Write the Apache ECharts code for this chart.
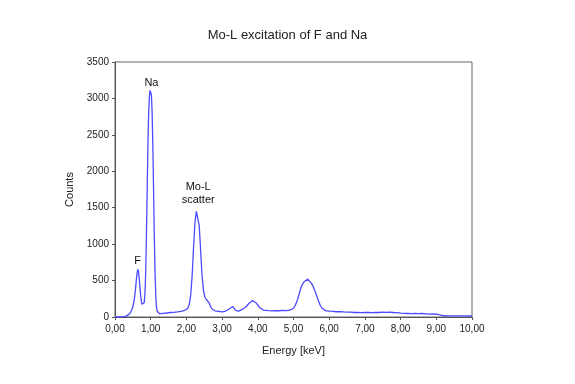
<!DOCTYPE html>
<html>
<head>
<meta charset="utf-8">
<script src="https://cdn.jsdelivr.net/npm/echarts@6/dist/echarts.min.js"></script>
<style>html,body{margin:0;padding:0;background:#fff}#c{width:575px;height:384px}</style>
</head>
<body>
<div id="c"></div>
<script>
var energy = [0.00,0.10,0.20,0.30,0.35,0.40,0.45,0.50,0.54,0.57,0.60,0.62,0.64,0.66,0.68,0.70,0.72,0.74,0.76,0.78,0.80,0.82,0.84,0.86,0.88,0.90,0.92,0.94,0.96,0.98,1.00,1.02,1.04,1.06,1.08,1.10,1.12,1.14,1.16,1.18,1.20,1.25,1.30,1.35,1.40,1.45,1.50,1.55,1.60,1.65,1.70,1.75,1.80,1.85,1.90,1.95,2.00,2.04,2.08,2.12,2.16,2.20,2.24,2.28,2.30,2.32,2.36,2.40,2.44,2.48,2.52,2.56,2.60,2.64,2.68,2.72,2.76,2.80,2.85,2.90,2.95,3.00,3.05,3.10,3.15,3.20,3.25,3.30,3.34,3.38,3.42,3.46,3.50,3.55,3.60,3.65,3.70,3.75,3.80,3.85,3.90,3.95,4.00,4.05,4.10,4.15,4.20,4.30,4.40,4.50,4.60,4.70,4.80,4.90,5.00,5.05,5.10,5.15,5.20,5.25,5.30,5.35,5.40,5.45,5.50,5.55,5.60,5.65,5.70,5.75,5.80,5.85,5.90,6.00,6.10,6.20,6.30,6.40,6.50,6.60,6.70,6.80,6.90,7.00,7.10,7.20,7.30,7.40,7.50,7.60,7.70,7.80,7.90,8.00,8.10,8.20,8.30,8.40,8.50,8.60,8.70,8.80,8.90,9.00,9.10,9.15,9.20,9.40,9.60,9.80,10.00];
var counts = [0,0,2,8,20,40,75,140,240,360,520,610,655,620,520,400,290,210,175,160,165,200,330,620,1100,1700,2300,2750,3000,3110,3120,3050,2800,2350,1750,1150,650,320,150,80,55,45,48,50,52,55,58,62,65,64,68,70,72,78,82,90,100,120,170,300,560,950,1300,1450,1470,1440,1250,900,560,360,270,240,225,190,140,110,95,85,80,78,72,70,75,82,95,110,130,145,125,90,75,80,90,100,110,130,155,185,210,225,220,195,165,130,108,95,90,88,85,88,86,90,88,95,120,160,220,300,390,450,485,505,520,500,465,420,360,290,220,160,120,98,88,80,78,72,75,70,68,66,62,64,60,63,62,60,64,62,66,63,65,62,60,52,50,48,46,50,45,48,44,40,42,38,30,20,17,16,15,15,14];
var peakNames = ['F','Na','Mo-L\nscatter'];
var peakX = [0.63,1.02,2.33];
var peakY = [770,3215,1690];

var series = energy.map(function(e,i){return [e,counts[i]];});
var labels = peakNames.map(function(n,i){return [peakX[i],peakY[i],n];});

var chart = echarts.init(document.getElementById('c'));
chart.setOption({
  animation:false,
  backgroundColor:'#fff',
  title:{text:'Mo-L excitation of F and Na',left:'center',top:24,textStyle:{fontFamily:'Liberation Sans',fontSize:13,fontWeight:'normal',color:'#222'}},
  grid:{left:115,right:103,top:62,bottom:67,show:true,borderColor:'#666',borderWidth:1},
  xAxis:{type:'value',min:0,max:10,interval:1,name:'Energy [keV]',nameLocation:'middle',nameGap:28,
    nameTextStyle:{fontFamily:'Liberation Sans',fontSize:11,color:'#222'},
    axisLine:{show:true,lineStyle:{color:'#555'}},axisTick:{show:true,length:3,lineStyle:{color:'#555'}},
    splitLine:{show:false},
    axisLabel:{margin:7,fontFamily:'Liberation Sans',fontSize:10,color:'#222',formatter:function(v){return v.toFixed(2).replace('.',',');}}},
  yAxis:{type:'value',min:0,max:3500,interval:500,name:'Counts',nameLocation:'middle',nameGap:36,
    nameTextStyle:{fontFamily:'Liberation Sans',fontSize:11,color:'#222'},
    axisLine:{show:true,lineStyle:{color:'#555'}},axisTick:{show:true,length:3,lineStyle:{color:'#555'}},
    splitLine:{show:false},
    axisLabel:{margin:6,fontFamily:'Liberation Sans',fontSize:10,color:'#222',formatter:function(v){return String(v);}}},
  series:[
    {type:'line',data:series,showSymbol:false,symbol:'none',lineStyle:{color:'#4a4aff',width:1.3},z:3},
    {type:'scatter',data:labels,symbolSize:0,z:4,itemStyle:{color:'#111',opacity:1},
      label:{show:true,position:'inside',formatter:function(p){return p.data[2];},fontFamily:'Liberation Sans',fontSize:11,color:'#111',lineHeight:13}}
  ]
});
</script>
</body>
</html>
